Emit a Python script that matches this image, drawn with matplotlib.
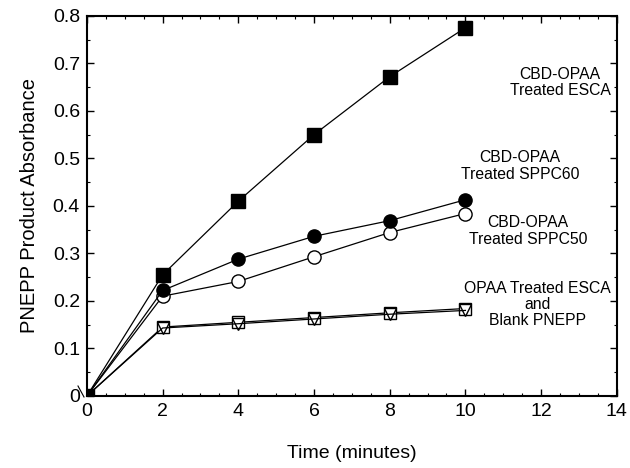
import numpy as np
import matplotlib
matplotlib.use("Agg")
from matplotlib import pyplot as plt
from matplotlib.ticker import MultipleLocator, FuncFormatter
from matplotlib.lines import Line2D

plt.rcParams['font.family'] = ['Liberation Sans', 'DejaVu Sans']

# Data
time = [0, 2, 4, 6, 8, 10]
cbd_esca = [0, 0.255, 0.41, 0.55, 0.672, 0.775]
cbd_sppc60 = [0, 0.222, 0.288, 0.336, 0.369, 0.413]
cbd_sppc50 = [0, 0.21, 0.241, 0.293, 0.344, 0.384]
opaa_esca = [0, 0.145, 0.155, 0.165, 0.175, 0.184]
blank_pnepp = [0, 0.143, 0.152, 0.162, 0.172, 0.180]

labels = ["CBD-OPAA\nTreated ESCA", "CBD-OPAA\nTreated SPPC60",
          "CBD-OPAA\nTreated SPPC50", "OPAA Treated ESCA\nand\nBlank PNEPP"]
label_pos = [(12.5, 0.659), (11.45, 0.484), (11.65, 0.347), (11.9, 0.192)]

fig = plt.figure(figsize=(6.3, 4.68), dpi=100)
ax = fig.add_axes([0.138, 0.154, 0.841, 0.812])

lw = 0.9
ax.plot(time, opaa_esca, color="black", lw=lw, marker="s", ms=9, mfc="white", mec="black", mew=1)
ax.plot(time, blank_pnepp, color="black", lw=lw, marker="v", ms=9, mfc="none", mec="black", mew=1)
ax.plot(time, cbd_sppc50, color="black", lw=lw, marker="o", ms=9.5, mfc="white", mec="black", mew=1)
ax.plot(time, cbd_sppc60, color="black", lw=lw, marker="o", ms=9.5, mfc="black", mec="black")
ax.plot(time, cbd_esca, color="black", lw=lw, marker="s", ms=9.5, mfc="black", mec="black")

for txt, (x, y) in zip(labels, label_pos):
    ax.text(x, y, txt, ha="center", va="center", fontsize=11.3, linespacing=1.1)

ax.set_xlim(0, 14)
ax.set_ylim(0, 0.8)
ax.xaxis.set_major_locator(MultipleLocator(2))
ax.xaxis.set_minor_locator(MultipleLocator(0.5))
ax.yaxis.set_major_locator(MultipleLocator(0.1))
ax.yaxis.set_minor_locator(MultipleLocator(0.05))
ax.yaxis.set_major_formatter(FuncFormatter(lambda v, p: "0" if abs(v) < 1e-9 else "%.1f" % v))
ax.tick_params(which="both", direction="in", top=True, right=True, labelsize=14)
ax.tick_params(which="major", length=5, width=1)
ax.tick_params(which="minor", length=2.5, width=0.8)
ax.tick_params(axis="x", pad=5)
ax.tick_params(axis="y", pad=5)
for s in ax.spines.values():
    s.set_linewidth(1.5)

ax.set_xlabel("Time (minutes)", fontsize=14, labelpad=18)
ax.set_ylabel("PNEPP Product Absorbance", fontsize=14.5, labelpad=10)

# small break mark at the origin
fig.add_artist(Line2D([78 / 630, 84 / 630], [1 - 386 / 468, 1 - 397 / 468], color="black", lw=0.8))

fig.savefig("out.png", dpi=100)
